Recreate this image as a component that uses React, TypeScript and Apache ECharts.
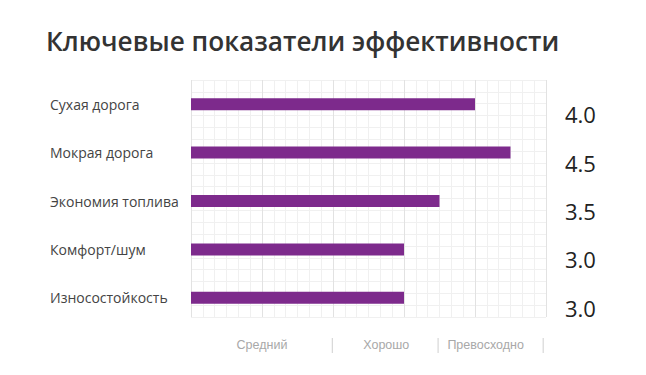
import React, { useEffect, useRef } from "react";
import * as echarts from "echarts";

const titleText = "Ключевые показатели эффективности";
const categories = ["Сухая дорога", "Мокрая дорога", "Экономия топлива", "Комфорт/шум", "Износостойкость"];
const scores = [4.0, 4.5, 3.5, 3.0, 3.0];
const ratingLabels = ["Средний", "Хорошо", "Превосходно"];
const ratingCenters = [1.0, 2.75, 4.15];
const ratingSeparators = [1.99, 3.48, 4.96];

export default function App() {
  const ref = useRef<HTMLDivElement>(null);
  useEffect(() => {
    if (!ref.current) return;
    const chart = echarts.init(ref.current, null, { renderer: "svg" });
    const font = "'Open Sans', sans-serif";
    const hiddenAxis = {
      axisLabel: { show: false },
      axisLine: { show: false },
      axisTick: { show: false },
      splitLine: { show: false },
    };
    chart.setOption({
      animation: false,
      backgroundColor: "#ffffff",
      title: {
        text: titleText,
        left: 41,
        top: 23,
        textStyle: { fontFamily: font, fontSize: 26.2, fontWeight: 600, color: "#333333" },
      },
      grid: [
        { left: 191, right: 100, top: 80, bottom: 58 },
        { left: 191, right: 100, top: 80, bottom: 53 },
      ],
      xAxis: [
        {
          type: "value",
          gridIndex: 0,
          min: 0,
          max: 5,
          interval: 1,
          axisLabel: { show: false },
          axisLine: { show: false },
          axisTick: { show: false },
          splitLine: { show: true, lineStyle: { color: "#e2e2e2", width: 1 } },
          minorTick: { show: false, splitNumber: 6 },
          minorSplitLine: { show: true, lineStyle: { color: "#f0f0f0", width: 1 } },
        },
        { type: "value", gridIndex: 1, min: 0, max: 5, ...hiddenAxis },
      ],
      yAxis: [
        {
          type: "value",
          gridIndex: 0,
          min: 0,
          max: 20,
          interval: 1,
          axisLabel: { show: false },
          axisLine: { show: false },
          axisTick: { show: false },
          splitLine: { show: true, lineStyle: { color: "#f0f0f0", width: 1 } },
        },
        {
          type: "category",
          gridIndex: 1,
          data: categories,
          inverse: true,
          position: "left",
          axisLine: { show: false },
          axisTick: { show: false },
          splitLine: { show: false },
          axisLabel: {
            align: "left",
            margin: 141,
            fontFamily: font,
            fontSize: 14,
            color: "#444444",
          },
        },
        {
          type: "category",
          gridIndex: 1,
          data: scores.map((v) => v.toFixed(1)),
          inverse: true,
          position: "right",
          axisLine: { show: false },
          axisTick: { show: false },
          splitLine: { show: false },
          axisLabel: {
            align: "left",
            verticalAlign: "top",
            margin: 19,
            padding: [-1, 0, 0, 0],
            fontFamily: font,
            fontSize: 22,
            color: "#222222",
          },
        },
      ],
      series: [
        {
          type: "bar",
          xAxisIndex: 1,
          yAxisIndex: 1,
          data: scores,
          barWidth: 12,
          itemStyle: { color: "#7d2a8c" },
          z: 5,
        },
      ],
    });
    const graphics: any[] = [];
    const yText = 345;
    ratingLabels.forEach((t, i) => {
      const x = chart.convertToPixel({ xAxisIndex: 0 }, ratingCenters[i]) as number;
      graphics.push({
        type: "text",
        x,
        y: yText,
        style: {
          text: t,
          align: "center",
          verticalAlign: "middle",
          fontFamily: "'Liberation Sans', Arial, sans-serif",
          fontSize: 12.5,
          fill: "#a8a8a8",
        },
      });
    });
    ratingSeparators.forEach((v) => {
      const x = chart.convertToPixel({ xAxisIndex: 0 }, v) as number;
      graphics.push({
        type: "line",
        shape: { x1: x, y1: yText - 7, x2: x, y2: yText + 8 },
        style: { stroke: "#cfcfcf", lineWidth: 1 },
      });
    });
    chart.setOption({ graphic: graphics });
    return () => chart.dispose();
  }, []);
  return <div ref={ref} style={{ position: "fixed", left: 0, top: 0, width: 646, height: 375 }} />;
}
